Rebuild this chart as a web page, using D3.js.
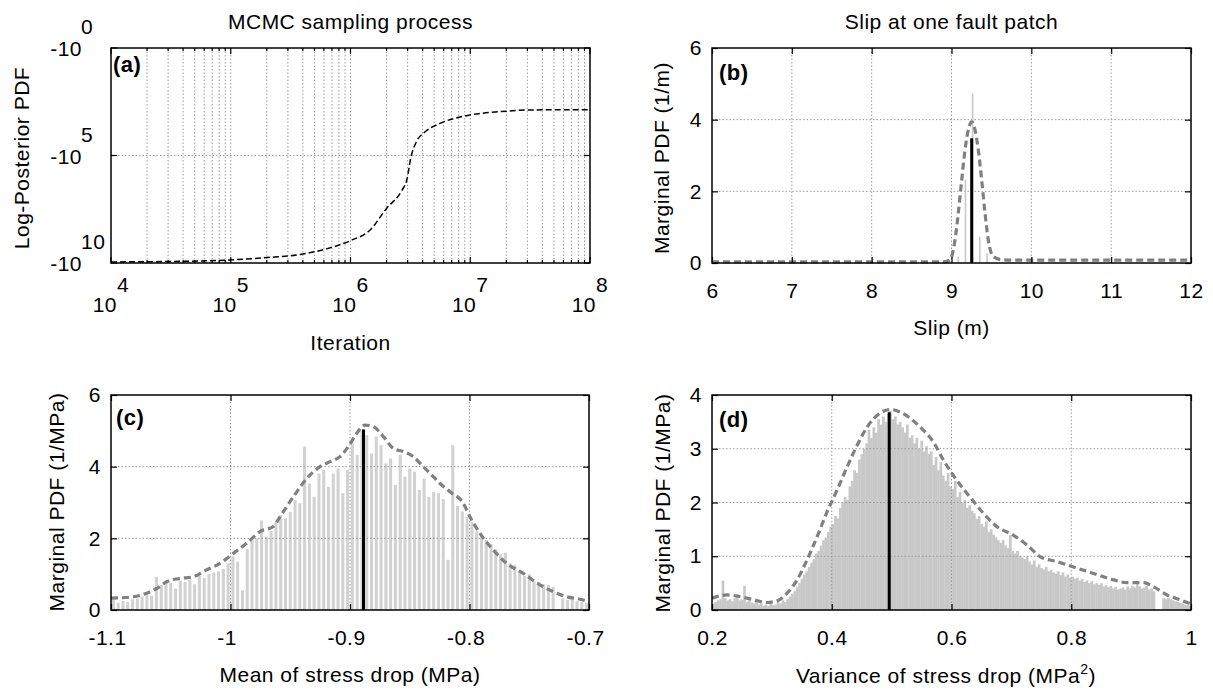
<!DOCTYPE html>
<html>
<head>
<meta charset="utf-8">
<script src="https://cdn.jsdelivr.net/npm/d3@7.9.0/dist/d3.min.js"></script>
<style>
  body { margin: 0; background: #fff; }
  svg text { font-family: "Liberation Sans", Arial, sans-serif; font-size: 21px; letter-spacing: 0.5px; fill: #000; }
  .grid line { stroke: #9a9a9a; stroke-width: 1; stroke-dasharray: 1.5,2; }
  .panel-label { font-weight: bold; font-size: 22px; }
</style>
</head>
<body>
<svg id="chart" width="1213" height="690"></svg>
<script>
// (a) MCMC chain: iteration vs log-posterior
const iterations = [1e4, 3.2e4, 1e5, 2e5, 3.8e5, 6.3e5, 1e6, 1.45e6, 2e6, 2.7e6, 2.95e6, 3.2e6, 3.55e6, 4.2e6, 5.6e6, 9.3e6, 1.8e7, 3.3e7, 1e8];
const logPosterior = [-8.9e9, -8.5e9, -7.2e9, -5.6e9, -4.0e9, -2.2e9, -9.1e8, -3.0e8, -2.9e7, -4.0e6, -1.4e6, -1.15e5, -2.3e4, -7.9e3, -3.2e3, -1.4e3, -910, -760, -740];
const iterTicks = [1e4, 1e5, 1e6, 1e7, 1e8];
const logPostTicks = [1, 1e5, 1e10];

// (b) slip at one fault patch
const slipBins = [9.085, 9.175, 9.265, 9.355, 9.445];
const slipHist = [0.18, 2.32, 4.74, 0.73, 0.27];
const slipCurveX = [6, 8.9, 8.98, 9.044, 9.085, 9.128, 9.169, 9.21, 9.253, 9.295, 9.336, 9.378, 9.42, 9.461, 9.524, 9.63, 9.8, 12];
const slipCurveY = [0.03, 0.03, 0.08, 0.64, 1.39, 2.32, 3.15, 3.71, 3.94, 3.71, 3.15, 2.32, 1.39, 0.64, 0.18, 0.09, 0.08, 0.08];
const slipBest = { x: 9.253, y: 3.48 };
const slipTicks = [6, 7, 8, 9, 10, 11, 12];
const slipPdfTicks = [0, 2, 4, 6];

// (c) mean of stress drop, bins of 0.004 MPa from -1.1
const meanHist = [
  0.30, 0.20, 0.25, 0.22, 0.30, 0.32, 0.38, 0.42, 0.40, 0.92,
  0.70, 0.80, 0.75, 0.60, 0.82, 0.78, 0.85, 0.72, 0.95, 0.90,
  1.00, 1.05, 1.08, 1.15, 1.30, 1.50, 1.35, 0.55, 1.70, 1.95,
  2.00, 2.50, 2.05, 2.20, 2.45, 2.65, 2.56, 2.74, 3.07, 2.98,
  4.56, 3.53, 3.16, 3.81, 3.91, 3.44, 3.81, 3.95, 3.26, 3.91,
  4.65, 4.33, 5.00, 4.88, 4.37, 4.84, 4.60, 4.09, 4.23, 3.49,
  4.33, 3.72, 3.95, 3.86, 3.35, 3.67, 3.16, 3.30, 3.26, 3.10,
  1.40, 4.60, 2.90, 2.75, 2.60, 2.45, 2.20, 2.10, 1.95, 1.85,
  1.70, 1.55, 1.60, 1.30, 1.25, 1.10, 0.95, 1.00, 0.80, 0.78,
  0.72, 0.70, 0.65, 0.00, 0.32, 0.28, 0.30, 0.25, 0.22, 0.20
];
const meanCurveX = [-1.1, -1.0813, -1.0701, -1.0618, -1.0534, -1.0423, -1.0311, -1.02, -1.0088, -0.9977, -0.9865, -0.9753, -0.9642, -0.9586, -0.9474, -0.9362, -0.9251, -0.9167, -0.9084, -0.9014, -0.8944, -0.8874, -0.8805, -0.8721, -0.8638, -0.8554, -0.847, -0.8387, -0.8303, -0.8247, -0.8163, -0.8052, -0.7996, -0.7912, -0.78, -0.7689, -0.755, -0.741, -0.7298, -0.7187, -0.7075, -0.7];
const meanCurveY = [0.33, 0.37, 0.47, 0.6, 0.79, 0.88, 0.93, 1.12, 1.3, 1.58, 1.86, 2.19, 2.33, 2.6, 3.16, 3.67, 4.0, 4.14, 4.28, 4.56, 4.93, 5.16, 5.12, 4.84, 4.51, 4.42, 4.28, 4.0, 3.72, 3.53, 3.3, 2.98, 2.6, 2.14, 1.67, 1.3, 1.02, 0.7, 0.51, 0.37, 0.3, 0.23];
const meanBest = { x: -0.8887, y: 5.04 };
const meanTicks = [-1.1, -1, -0.9, -0.8, -0.7];
const meanPdfTicks = [0, 2, 4, 6];

// (d) variance of stress drop, bins of 0.004 MPa^2 from 0.2
const varHist = [
  0.12, 0.15, 0.18, 0.20, 0.55, 0.22, 0.18, 0.20, 0.16, 0.22,
  0.30, 0.18, 0.20, 0.45, 0.15, 0.18, 0.14, 0.12, 0.15, 0.10,
  0.12, 0.08, 0.10, 0.07, 0.12, 0.09, 0.10, 0.15, 0.12, 0.18,
  0.15, 0.20, 0.25, 0.30, 0.35, 0.42, 0.50, 0.58, 0.66, 0.72,
  0.80, 0.88, 0.95, 1.05, 1.10, 1.20, 1.30, 1.35, 1.45, 1.55,
  1.60, 1.75, 1.70, 1.90, 2.00, 2.10, 2.05, 2.30, 2.40, 2.60,
  2.55, 2.80, 2.90, 3.00, 3.10, 3.35, 3.20, 3.40, 3.30, 3.55,
  3.45, 3.60, 3.50, 3.65, 3.70, 3.55, 3.60, 3.45, 3.50, 3.40,
  3.30, 3.45, 3.20, 3.25, 3.10, 3.20, 3.00, 3.15, 2.95, 3.05,
  2.90, 2.95, 2.70, 2.85, 2.60, 2.75, 2.50, 2.40, 2.55, 2.30,
  2.25, 2.40, 2.10, 2.20, 2.00, 2.05, 1.90, 1.95, 1.85, 1.80,
  1.70, 1.75, 1.60, 1.55, 1.65, 1.45, 1.50, 1.40, 1.35, 1.30,
  1.25, 1.30, 1.20, 1.15, 1.40, 1.10, 1.05, 1.10, 1.00, 0.98,
  0.95, 1.00, 0.90, 0.85, 0.92, 0.80, 0.85, 0.78, 0.75, 0.80,
  0.72, 0.75, 0.70, 0.68, 0.72, 0.65, 0.70, 0.62, 0.66, 0.60,
  0.62, 0.58, 0.60, 0.55, 0.58, 0.52, 0.55, 0.50, 0.54, 0.48,
  0.50, 0.47, 0.50, 0.44, 0.46, 0.42, 0.45, 0.40, 0.43, 0.38,
  0.40, 0.42, 0.38, 0.44, 0.40, 0.45, 0.42, 0.48, 0.44, 0.40,
  0.42, 0.45, 0.38, 0.40, 0.35, 0.00, 0.00, 0.00, 0.22, 0.20,
  0.22, 0.20, 0.18, 0.16, 0.15, 0.13, 0.12, 0.10, 0.09, 0.08
];
const varCurveX = [0.2, 0.225, 0.247, 0.2695, 0.2918, 0.3085, 0.3252, 0.342, 0.3587, 0.3754, 0.392, 0.4088, 0.4255, 0.4422, 0.4589, 0.4756, 0.4978, 0.5145, 0.548, 0.570, 0.587, 0.609, 0.631, 0.654, 0.676, 0.7037, 0.726, 0.7483, 0.776, 0.804, 0.837, 0.8707, 0.893, 0.921, 0.9376, 0.96, 0.9816, 1.0];
const varCurveY = [0.22, 0.28, 0.25, 0.19, 0.14, 0.17, 0.31, 0.56, 0.93, 1.36, 1.82, 2.23, 2.66, 3.06, 3.4, 3.62, 3.73, 3.68, 3.40, 3.12, 2.78, 2.41, 2.10, 1.79, 1.55, 1.39, 1.21, 0.99, 0.90, 0.80, 0.68, 0.56, 0.51, 0.51, 0.43, 0.28, 0.19, 0.11];
const varBest = { x: 0.496, y: 3.68 };
const varTicks = [0.2, 0.4, 0.6, 0.8, 1];
const varPdfTicks = [0, 1, 2, 3, 4];

const binWidth = 0.004;

const svg = d3.select('#chart');
svg.append('rect').attr('width', 1213).attr('height', 690).attr('fill', '#fff');

const boxes = {
    a: { l: 111, r: 590, t: 48, b: 263 },
    b: { l: 712, r: 1191, t: 48, b: 263 },
    c: { l: 111, r: 589, t: 395, b: 610 },
    d: { l: 712, r: 1191, t: 395, b: 610 },
};

function frame(box) {
    svg.append('rect')
        .attr('x', box.l).attr('y', box.t)
        .attr('width', box.r - box.l).attr('height', box.b - box.t)
        .attr('fill', 'none').attr('stroke', '#000').attr('stroke-width', 1.5);
}

function grid(box, x, y, xVals, yVals) {
    const g = svg.append('g').attr('class', 'grid');
    g.selectAll('.gx').data(xVals.filter(v => x(v) > box.l + 1 && x(v) < box.r - 1)).join('line')
        .attr('x1', d => x(d)).attr('x2', d => x(d)).attr('y1', box.t).attr('y2', box.b);
    g.selectAll('.gy').data(yVals.filter(v => y(v) > box.t + 1 && y(v) < box.b - 1)).join('line')
        .attr('x1', box.l).attr('x2', box.r).attr('y1', d => y(d)).attr('y2', d => y(d));
}

function linearAxes(box, x, y, xVals, yVals, shiftNeg) {
    const fmt = d => String(d);
    const bottom = svg.append('g').attr('transform', `translate(0,${box.b})`)
        .call(d3.axisBottom(x).tickValues(xVals).tickSize(-6).tickPadding(20).tickFormat(fmt));
    svg.append('g').attr('transform', `translate(0,${box.t})`)
        .call(d3.axisTop(x).tickValues(xVals).tickSize(-6).tickFormat(''));
    svg.append('g').attr('transform', `translate(${box.l},0)`)
        .call(d3.axisLeft(y).tickValues(yVals).tickSize(-6).tickPadding(10).tickFormat(fmt));
    svg.append('g').attr('transform', `translate(${box.r},0)`)
        .call(d3.axisRight(y).tickValues(yVals).tickSize(-6).tickFormat(''));
    svg.selectAll('.domain').remove();
    svg.selectAll('.tick line').attr('stroke', '#000').attr('stroke-width', 1.2);
    svg.selectAll('.tick text').attr('font-family', null).attr('font-size', null);
    if (shiftNeg) bottom.selectAll('.tick text').attr('dx', d => d < 0 ? -4 : 0);
}

const dashGray = { stroke: '#808080', width: 3.2, dash: '7,4' };

function pdfCurve(xs, ys, x, y) {
    const line = d3.line().x(d => x(d[0])).y(d => y(d[1])).curve(d3.curveMonotoneX);
    svg.append('path')
        .attr('d', line(d3.zip(xs, ys)))
        .attr('fill', 'none')
        .attr('stroke', dashGray.stroke)
        .attr('stroke-width', dashGray.width)
        .attr('stroke-dasharray', dashGray.dash);
}

function bestLine(best, x, y) {
    svg.append('line')
        .attr('x1', x(best.x)).attr('x2', x(best.x))
        .attr('y1', y(0)).attr('y2', y(best.y))
        .attr('stroke', '#000').attr('stroke-width', 3);
}

function label(txt, x, y, opts = {}) {
    const t = svg.append('text').attr('x', x).attr('y', y).text(txt)
        .attr('text-anchor', opts.anchor || 'middle');
    if (opts.rotate) t.attr('transform', `rotate(-90,${x},${y})`);
    if (opts.cls) t.attr('class', opts.cls);
    return t;
}

// ---------- (a) ----------
{
    const box = boxes.a;
    const x = d3.scaleLog().domain([1e4, 1e8]).range([box.l, box.r]);
    const y = d3.scaleLog().domain([1, 1e10]).range([box.t, box.b]);
    const minor = [];
    iterTicks.slice(0, -1).forEach(t => { for (let k = 2; k <= 9; k++) minor.push(t * k); });

    grid(box, x, y, iterTicks.concat(minor), logPostTicks);

    const line = d3.line().x(d => x(d[0])).y(d => y(-d[1])).curve(d3.curveMonotoneX);
    svg.append('path')
        .attr('d', line(d3.zip(iterations, logPosterior)))
        .attr('fill', 'none').attr('stroke', '#000')
        .attr('stroke-width', 1.5).attr('stroke-dasharray', '6,3');

    const ticks = svg.append('g').attr('stroke', '#000').attr('stroke-width', 1.2);
    [[iterTicks, 6], [minor, 3]].forEach(([vals, len]) => {
        vals.forEach(v => {
            ticks.append('line').attr('x1', x(v)).attr('x2', x(v)).attr('y1', box.b).attr('y2', box.b - len);
            ticks.append('line').attr('x1', x(v)).attr('x2', x(v)).attr('y1', box.t).attr('y2', box.t + len);
        });
    });
    logPostTicks.forEach(v => {
        ticks.append('line').attr('x1', box.l).attr('x2', box.l + 6).attr('y1', y(v)).attr('y2', y(v));
        ticks.append('line').attr('x1', box.r).attr('x2', box.r - 6).attr('y1', y(v)).attr('y2', y(v));
    });

    iterTicks.forEach(v => {
        const px = x(v) + 6;
        label('10', px, 312, { anchor: 'end' });
        label(String(Math.round(Math.log10(v))), px, 292, { anchor: 'start' });
    });
    logPostTicks.forEach(v => {
        const py = y(v);
        label('-10', 82, py + 8, { anchor: 'end' });
        label(String(Math.round(Math.log10(v))), 81, py - 14, { anchor: 'start' });
    });

    frame(box);
    label('(a)', 113, 72, { anchor: 'start', cls: 'panel-label' });
    label('MCMC sampling process', (box.l + box.r) / 2, 29);
    label('Iteration', (box.l + box.r) / 2, 350);
    label('Log-Posterior PDF', 29, 158, { rotate: true });
}

// ---------- (b) ----------
{
    const box = boxes.b;
    const x = d3.scaleLinear().domain([6, 12]).range([box.l, box.r]);
    const y = d3.scaleLinear().domain([0, 6]).range([box.b, box.t]);
    grid(box, x, y, slipTicks, slipPdfTicks);
    svg.append('g').selectAll('rect').data(d3.zip(slipBins, slipHist)).join('rect')
        .attr('x', d => x(d[0]) - 0.8).attr('width', 1.6)
        .attr('y', d => y(d[1])).attr('height', d => y(0) - y(d[1]))
        .attr('fill', '#c8c8c8');
    pdfCurve(slipCurveX, slipCurveY, x, y);
    bestLine(slipBest, x, y);
    linearAxes(box, x, y, slipTicks, slipPdfTicks, false);
    frame(box);
    label('(b)', 719, 80, { anchor: 'start', cls: 'panel-label' });
    label('Slip at one fault patch', (box.l + box.r) / 2, 29);
    label('Slip (m)', (box.l + box.r) / 2, 335);
    label('Marginal PDF (1/m)', 669, 158, { rotate: true });
}

// ---------- (c) ----------
{
    const box = boxes.c;
    const x = d3.scaleLinear().domain([-1.1, -0.7]).range([box.l, box.r]);
    const y = d3.scaleLinear().domain([0, 6]).range([box.b, box.t]);
    const bw = x(-1.1 + binWidth) - x(-1.1);
    svg.append('g').selectAll('rect').data(meanHist).join('rect')
        .attr('x', (d, i) => x(-1.1 + i * binWidth) + bw * 0.18)
        .attr('width', bw * 0.64)
        .attr('y', d => y(d)).attr('height', d => y(0) - y(d))
        .attr('fill', '#d2d2d2');
    grid(box, x, y, meanTicks, meanPdfTicks);
    pdfCurve(meanCurveX, meanCurveY, x, y);
    bestLine(meanBest, x, y);
    linearAxes(box, x, y, meanTicks, meanPdfTicks, true);
    frame(box);
    label('(c)', 116, 425, { anchor: 'start', cls: 'panel-label' });
    label('Mean of stress drop (MPa)', 350, 682);
    label('Marginal PDF (1/MPa)', 64, 502, { rotate: true });
}

// ---------- (d) ----------
{
    const box = boxes.d;
    const x = d3.scaleLinear().domain([0.2, 1]).range([box.l, box.r]);
    const y = d3.scaleLinear().domain([0, 4]).range([box.b, box.t]);
    const bw = x(0.2 + binWidth) - x(0.2);
    svg.append('g').selectAll('rect').data(varHist).join('rect')
        .attr('x', (d, i) => x(0.2 + i * binWidth))
        .attr('width', bw + 0.3)
        .attr('y', d => y(d)).attr('height', d => y(0) - y(d))
        .attr('fill', '#c8c8c8');
    grid(box, x, y, varTicks, varPdfTicks);
    pdfCurve(varCurveX, varCurveY, x, y);
    bestLine(varBest, x, y);
    linearAxes(box, x, y, varTicks, varPdfTicks, false);
    frame(box);
    label('(d)', 719, 427, { anchor: 'start', cls: 'panel-label' });
    const t = label('Variance of stress drop (MPa', 946, 683);
    t.append('tspan').attr('dy', -9).attr('font-size', 14).text('2');
    t.append('tspan').attr('dy', 9).text(')');
    label('Marginal PDF (1/MPa)', 670, 503, { rotate: true });
}
</script>
</body>
</html>
